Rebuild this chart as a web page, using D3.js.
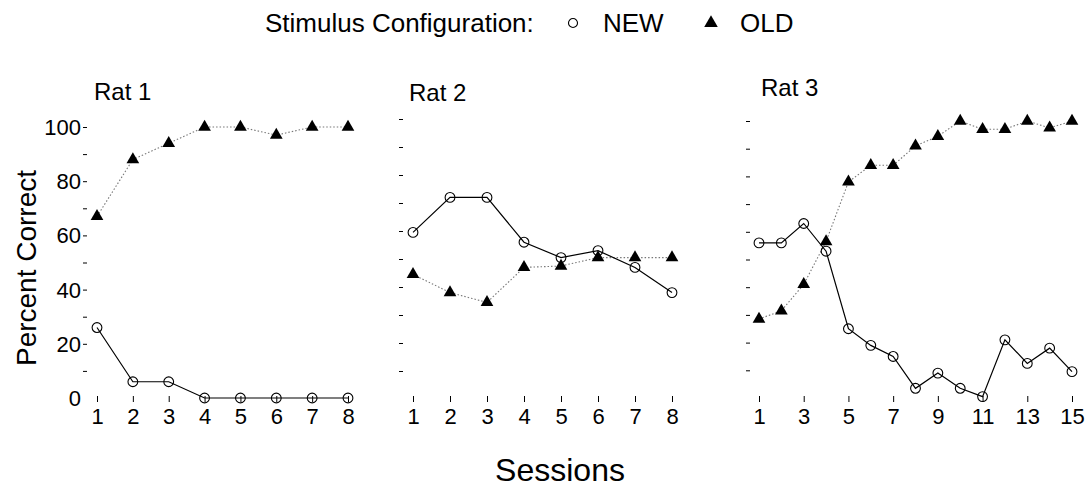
<!DOCTYPE html>
<html>
<head>
<meta charset="utf-8">
<script src="https://cdn.jsdelivr.net/npm/d3@7"></script>
<style>
  body { margin: 0; background: #fff; }
  svg { font-family: "Liberation Sans", Arial, Helvetica, sans-serif; }
  .tick line { stroke: #000; }
</style>
</head>
<body>
<div id="chart"></div>
<script>
// percent correct per session
var rat1Sessions = [1, 2, 3, 4, 5, 6, 7, 8];
var rat1New = [26, 6, 6, 0, 0, 0, 0, 0];
var rat1Old = [67, 88, 94, 100, 100, 97, 100, 100];

var rat2Sessions = [1, 2, 3, 4, 5, 6, 7, 8];
var rat2New = [59.5, 72, 72, 56, 50.5, 53, 47, 38];
var rat2Old = [44.5, 38, 34.5, 47, 47.5, 50.5, 50.5, 50.5];

var rat3Sessions = [1, 2, 3, 4, 5, 6, 7, 8, 9, 10, 11, 12, 13, 14, 15];
var rat3New = [56, 56, 63, 53, 25, 19, 15, 3.5, 9, 3.5, 0.5, 21, 12.5, 18, 9.5];
var rat3Old = [28.5, 31.5, 41, 56.5, 78, 84, 84, 91, 94.5, 100, 97, 97, 100, 97.5, 100];

var yTicks = [10, 20, 30, 40, 50, 60, 70, 80, 90, 100];
var yLabelTicks = [0, 20, 40, 60, 80, 100];
var rat3XTicks = [1, 3, 5, 7, 9, 11, 13, 15];
var panelTitles = ["Rat 1", "Rat 2", "Rat 3"];

var width = 1087, height = 489;

var svg = d3.select("#chart").append("svg")
    .attr("width", width)
    .attr("height", height);

var panels = [
  { title: panelTitles[0], sessions: rat1Sessions, nw: rat1New, old: rat1Old,
    x0: 97, x1: 348, yBot: 398, yTop: 127, axisX: 87, xticks: rat1Sessions, labels: true, tx: 94, ty: 100 },
  { title: panelTitles[1], sessions: rat2Sessions, nw: rat2New, old: rat2Old,
    x0: 413, x1: 672, yBot: 399, yTop: 119, axisX: 403, xticks: rat2Sessions, labels: false, tx: 409, ty: 101 },
  { title: panelTitles[2], sessions: rat3Sessions, nw: rat3New, old: rat3Old,
    x0: 759, x1: 1072, yBot: 398, yTop: 121, axisX: 750, xticks: rat3XTicks, labels: false, tx: 761, ty: 96 }
];

var circle = d3.symbol().type(d3.symbolCircle).size(75);
var tri = d3.symbol().type(d3.symbolTriangle).size(70);

panels.forEach(function(p) {
  var x = d3.scaleLinear().domain([1, p.sessions.length]).range([p.x0, p.x1]);
  var y = d3.scaleLinear().domain([0, 100]).range([p.yBot, p.yTop]);
  var g = svg.append("g");

  g.append("text")
      .attr("x", p.tx)
      .attr("y", p.ty)
      .attr("font-size", 24)
      .text(p.title);

  // y ticks only, no axis line
  var yAxis = g.append("g")
      .attr("transform", "translate(" + p.axisX + ",0)")
      .call(d3.axisLeft(y).tickValues(yTicks).tickSize(4).tickFormat(""));
  yAxis.select(".domain").remove();

  if (p.labels) {
    g.selectAll(".ylab")
        .data(yLabelTicks)
      .enter().append("text")
        .attr("class", "ylab")
        .attr("x", p.axisX - 6)
        .attr("y", function(d) { return y(d); })
        .attr("dy", "0.36em")
        .attr("text-anchor", "end")
        .attr("font-size", 22)
        .text(function(d) { return d; });
  }

  var xAxis = g.append("g")
      .attr("transform", "translate(0,396)")
      .call(d3.axisBottom(x).tickValues(p.xticks).tickSize(6).tickPadding(6).tickFormat(d3.format("d")));
  xAxis.select(".domain").remove();
  xAxis.attr("font-family", null).attr("font-size", null);
  xAxis.selectAll("text").attr("font-size", 22).attr("fill", "#000");

  var line = d3.line()
      .x(function(d, i) { return x(p.sessions[i]); })
      .y(function(d) { return y(d); });

  g.append("path")
      .datum(p.old)
      .attr("fill", "none")
      .attr("stroke", "#777")
      .attr("stroke-width", 1.1)
      .attr("stroke-dasharray", "1.5,2")
      .attr("d", line);

  g.append("path")
      .datum(p.nw)
      .attr("fill", "none")
      .attr("stroke", "#000")
      .attr("stroke-width", 1.2)
      .attr("d", line);

  g.selectAll(".old")
      .data(p.old)
    .enter().append("path")
      .attr("class", "old")
      .attr("transform", function(d, i) { return "translate(" + x(p.sessions[i]) + "," + y(d) + ")"; })
      .attr("d", tri)
      .attr("fill", "#000");

  g.selectAll(".new")
      .data(p.nw)
    .enter().append("path")
      .attr("class", "new")
      .attr("transform", function(d, i) { return "translate(" + x(p.sessions[i]) + "," + y(d) + ")"; })
      .attr("d", circle)
      .attr("fill", "none")
      .attr("stroke", "#000")
      .attr("stroke-width", 1.1);
});

// legend
var legend = svg.append("g").attr("font-size", 26);
legend.append("text").attr("x", 265).attr("y", 32).text("Stimulus Configuration:");
legend.append("path")
    .attr("transform", "translate(573,23)")
    .attr("d", d3.symbol().type(d3.symbolCircle).size(64))
    .attr("fill", "none").attr("stroke", "#000").attr("stroke-width", 1.1);
legend.append("text").attr("x", 603).attr("y", 32).text("NEW");
legend.append("path")
    .attr("transform", "translate(711,23)")
    .attr("d", d3.symbol().type(d3.symbolTriangle).size(80))
    .attr("fill", "#000");
legend.append("text").attr("x", 740).attr("y", 32).text("OLD");

// axis titles
svg.append("text")
    .attr("transform", "translate(36,268) rotate(-90)")
    .attr("text-anchor", "middle")
    .attr("font-size", 28)
    .text("Percent Correct");

svg.append("text")
    .attr("x", 560)
    .attr("y", 481)
    .attr("text-anchor", "middle")
    .attr("font-size", 32)
    .text("Sessions");
</script>
</body>
</html>
